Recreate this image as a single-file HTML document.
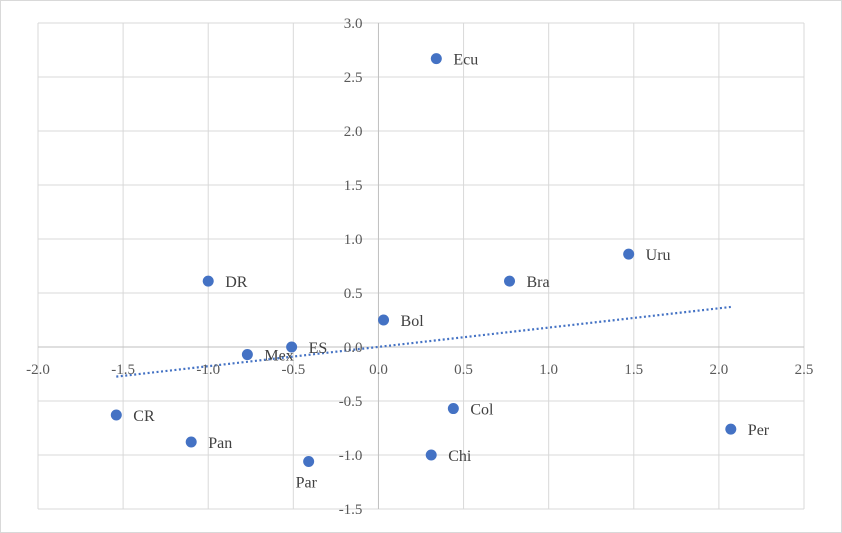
<!DOCTYPE html>
<html><head><meta charset="utf-8"><style>
html,body{margin:0;padding:0;background:#fff;}
svg{display:block;font-family:"Liberation Serif",serif;}
</style></head><body>
<svg id="chart" width="842" height="533" viewBox="0 0 842 533">
<rect x="0.5" y="0.5" width="841" height="532" fill="#fff" stroke="#d9d9d9"/>
<g id="grid"></g><g id="axes"></g><g id="trend"></g><g id="points"></g><g id="labels"></g>
</svg>
<script>
const countries=["Ecu","Uru","Bra","DR","Bol","ES","Mex","CR","Pan","Par","Chi","Col","Per"];
const xVals=[0.34,1.47,0.77,-1.00,0.03,-0.51,-0.77,-1.54,-1.10,-0.41,0.31,0.44,2.07];
const yVals=[2.67,0.86,0.61,0.61,0.25,0.00,-0.07,-0.63,-0.88,-1.06,-1.00,-0.57,-0.76];
const xTicks=["-2.0","-1.5","-1.0","-0.5","0.0","0.5","1.0","1.5","2.0","2.5"];
const yTicks=["3.0","2.5","2.0","1.5","1.0","0.5","0.0","-0.5","-1.0","-1.5"];
const NS="http://www.w3.org/2000/svg";
const L=38,R=804,T=23,B=509,xmin=-2,xmax=2.5,ymin=-1.5,ymax=3;
const sx=v=>L+(v-xmin)/(xmax-xmin)*(R-L);
const sy=v=>B-(v-ymin)/(ymax-ymin)*(B-T);
function mk(tag,attrs,parent){const e=document.createElementNS(NS,tag);for(const k in attrs)e.setAttribute(k,attrs[k]);document.getElementById(parent).appendChild(e);return e;}
xTicks.forEach(t=>{const v=+t;const x=sx(v);
 if(v!==0){const g=mk("line",{x1:x,x2:x,y1:T,y2:B,stroke:"#d9d9d9"},"grid");
 
 }
 const tx=mk("text",{x:x,y:sy(0)+27,"text-anchor":"middle","font-size":"15",fill:"#595959"},"labels");
 tx.textContent=t;
 
 
});
yTicks.forEach(t=>{const v=+t;const y=sy(v);
 if(v!==0){const g=mk("line",{x1:L,x2:R,y1:y,y2:y,stroke:"#d9d9d9"},"grid");
 
 }
 const tx=mk("text",{x:sx(0)-16,y:y+5,"text-anchor":"end","font-size":"15",fill:"#595959"},"labels");
 tx.textContent=t;
 
 
});
const xa=mk("line",{x1:L,x2:R,y1:sy(0),y2:sy(0),stroke:"#bfbfbf"},"axes");


const ya=mk("line",{x1:sx(0),x2:sx(0),y1:T,y2:B,stroke:"#bfbfbf"},"axes");


// linear trendline (least squares)
const n=xVals.length;const mx=xVals.reduce((a,b)=>a+b)/n,my=yVals.reduce((a,b)=>a+b)/n;
let sxy=0,sxx=0;for(let i=0;i<n;i++){sxy+=(xVals[i]-mx)*(yVals[i]-my);sxx+=(xVals[i]-mx)**2;}
const slope=sxy/sxx,icpt=my-slope*mx;const x0=Math.min(...xVals),x1=Math.max(...xVals);
const tl=mk("line",{x1:sx(x0),y1:sy(icpt+slope*x0),x2:sx(x1),y2:sy(icpt+slope*x1),stroke:"#4472c4","stroke-width":"2.2","stroke-dasharray":"2 2.5"},"trend");


countries.forEach((c,i)=>{
 const p=mk("circle",{cx:sx(xVals[i]),cy:sy(yVals[i]),r:5.5,fill:"#4472c4"},"points");
 
 
 let lx=sx(xVals[i])+17,ly=sy(yVals[i])+6,anchor="start";
 if(c==="Par"){lx=sx(xVals[i])-13;ly=sy(yVals[i])+26;}
 const t=mk("text",{x:lx,y:ly,"text-anchor":anchor,"font-size":"16",fill:"#404040"},"labels");
 t.textContent=c;
 
 
});
</script>
</body></html>
